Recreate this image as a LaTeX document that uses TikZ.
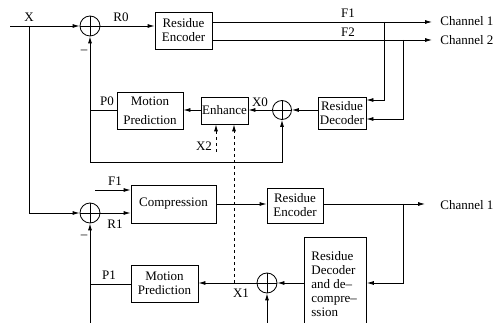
\documentclass[tikz,border=0pt]{standalone}
\usepackage{fontspec}
\setmainfont{Liberation Serif}
\usetikzlibrary{arrows.meta,calc}
\begin{document}
\begin{tikzpicture}[x=1pt,y=-1pt,
  font=\fontsize{13}{14}\selectfont,
  line width=0.8pt,
  >={Latex[length=7pt,width=4pt]},
  blk/.style={draw,rectangle,inner sep=1pt,align=center},
  sumnode/.style={draw,circle,minimum size=20pt,inner sep=0pt,
    path picture={\draw (path picture bounding box.north)--(path picture bounding box.south)
      (path picture bounding box.west)--(path picture bounding box.east);}},
  lbl/.style={inner sep=0pt}
]
\useasboundingbox (0,0) rectangle (493,323);
\clip (0,0) rectangle (493,323);

% upper loop
\node[sumnode] (s0) at (90,26) {};
\node[blk,minimum width=57pt,minimum height=37pt] (e0) at (183.5,30.5) {Residue\\Encoder};
\node[blk,minimum width=48pt,minimum height=32pt] (d0) at (342,113) {Residue\\Decoder};
\node[sumnode,minimum size=19pt] (s2) at (282,110) {};
\node[blk,minimum width=47pt,minimum height=27pt] (en) at (224.5,110.5) {Enhance};
\node[blk,minimum width=66pt,minimum height=37pt] (m0) at (150,110.5) {Motion\\[5pt]Prediction};

% lower loop
\node[sumnode] (s1) at (90,213) {};
\node[blk,minimum width=85pt,minimum height=38pt] (cp) at (173.5,204) {Compression};
\node[blk,minimum width=56pt,minimum height=35pt] (e1) at (295,205.5) {Residue\\Encoder};
\node[sumnode] (s3) at (267,283) {};
\node[blk,minimum width=67pt,minimum height=37pt] (m1) at (164.5,283.5) {Motion\\Prediction};
\node[draw,rectangle,anchor=north west,minimum width=62pt,minimum height=100pt,inner sep=0pt] (d1) at (304,237) {};
\node[lbl,anchor=north west,align=left] (d1t) at (311,251) {Residue\\Decoder\\and de–\\compre–\\ssion};

% labels
\node[lbl] (lx) at (29,17) {X};
\node[lbl] (lr0) at (121,17) {R0};
\node[lbl] (lf1) at (348,13) {F1};
\node[lbl] (lf2) at (348,32) {F2};
\node[lbl] (lp0) at (107,101) {P0};
\node[lbl] (lx0) at (260,102) {X0};
\node[lbl] (lx2) at (204,146) {X2};
\node[lbl] (lf1b) at (115,181) {F1};
\node[lbl] (lr1) at (115,224) {R1};
\node[lbl] (lp1) at (109,275) {P1};
\node[lbl] (lx1) at (241,293) {X1};
\node[lbl] (mn0) at (84,52) {–};
\node[lbl] (mn1) at (84,237) {–};
\node[lbl,anchor=west] (ch1) at (440,21) {Channel 1};
\node[lbl,anchor=west] (ch2) at (440,40) {Channel 2};
\node[lbl,anchor=west] (ch3) at (440,205) {Channel 1};

% coordinates
\coordinate (in) at (10,26);
\coordinate (bx) at (29,26);
\coordinate (c1) at (432,22);
\coordinate (c2) at (432,40);
\coordinate (b1) at (384,22);
\coordinate (b1d) at (384,100);
\coordinate (b2) at (403,40);
\coordinate (b2d) at (403,119);
\coordinate (p0) at (90,110);
\coordinate (fb2) at (282,162);
\coordinate (x2s) at (216,152);
\coordinate (x1) at (234,283);
\coordinate (f1s) at (95,190);
\coordinate (c3) at (425,204);
\coordinate (b3) at (403,204);
\coordinate (b3d) at (403,283);
\coordinate (bot3) at (267,330);
\coordinate (p1) at (90,284);
\coordinate (bot1) at (90,330);

% upper connectors
\draw[->] (in) -- (s0.west);
\draw[->] (bx) |- (s1.west);
\draw[->] (s0.east) -- (e0.west |- s0);
\draw[->] (e0.east |- c1) -- (c1);
\draw[->] (e0.east |- c2) -- (c2);
\draw[->] (b1) -- (b1d) -- (d0.east |- b1d);
\draw[->] (b2) -- (b2d) -- (d0.east |- b2d);
\draw[->] (d0.west |- s2) -- (s2.east);
\draw[->] (s2.west) -- (en.east |- s2);
\draw[->] (en.west |- s2) -- (m0.east |- s2);
\draw (m0.west |- p0) -- (p0);
\draw[->] (p0) -- (s0.south);
\draw[->] (p0) |- (fb2) -- (s2.south);
\draw[->,dashed] (x2s) -- (x2s |- en.south);
\draw[->,dashed] (x1) -- (x1 |- en.south);

% lower connectors
\draw[->] (f1s) -- (cp.west |- f1s);
\draw[->] (s1.east) -- (cp.west |- s1);
\draw[->] (cp.east) -- (e1.west |- cp);
\draw[->] (e1.east |- c3) -- (c3);
\draw[->] (b3) -- (b3d) -- (d1.east |- b3d);
\draw[->] (d1.west |- s3) -- (s3.east);
\draw[->] (s3.west) -- (m1.east |- s3);
\draw[->] (bot3) -- (s3.south);
\draw (m1.west |- p1) -- (p1);
\draw[->] (bot1) -- (s1.south);
\end{tikzpicture}
\end{document}
